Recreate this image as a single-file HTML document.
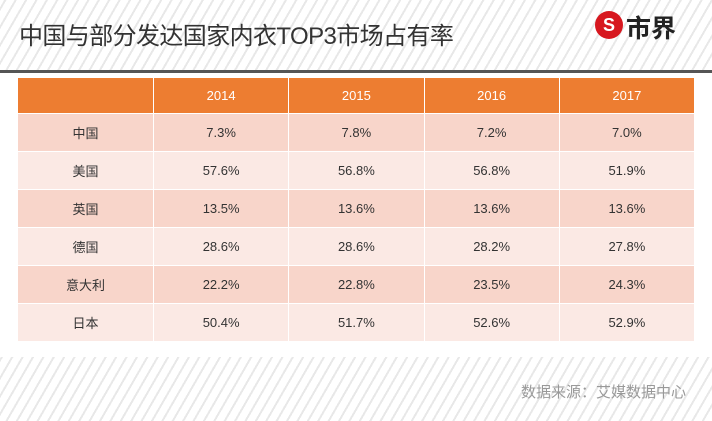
<!DOCTYPE html>
<html><head><meta charset="utf-8">
<style>
body{margin:0;width:712px;height:421px;overflow:hidden;background:#fff;font-family:"Liberation Sans","Noto Sans CJK SC",sans-serif;position:relative}
.stripe{position:absolute;left:0;width:712px;background:repeating-linear-gradient(-60deg,#fff 0,#fff 7px,#e8e8e8 7px,#e8e8e8 9px)}
#top{top:0;height:70px}
#bar{position:absolute;top:70px;left:0;width:712px;height:3px;background:#555}
#bottom{top:357px;height:64px}
#title{position:absolute;left:19px;top:16px;font-size:24px;color:#333;letter-spacing:-0.6px}
#logo{position:absolute;left:595px;top:11px;width:28px;height:28px;border-radius:50%;background:#d7171f}
#logo:after{content:"S";position:absolute;left:0;top:0;width:28px;text-align:center;line-height:28px;color:#fff;font-weight:bold;font-size:18px}
#logotext{position:absolute;left:626px;top:9px;font-size:25px;font-weight:bold;color:#222}
#src{position:absolute;right:26px;top:381px;font-size:15px;color:#999}
table{position:absolute;left:17px;top:77px;border-collapse:collapse;width:678px}
td,th{border:1px solid #fff;text-align:center;font-size:13px;color:#333;font-weight:normal;padding:0}
th{background:#ed7d31;color:#fff;height:35px}
td{height:37px}
tr.o td{background:#f8d5ca}
tr.e td{background:#fbe9e4}
</style></head><body>
<div class="stripe" id="top"></div>
<div id="bar"></div>
<div id="title">中国与部分发达国家内衣TOP3市场占有率</div>
<div id="logo"></div>
<div id="logotext">市界</div>
<table id="tbl"></table>
<div class="stripe" id="bottom"></div>
<div id="src">数据来源：艾媒数据中心</div>
<script>
const years=["2014","2015","2016","2017"];
const countries=["中国","美国","英国","德国","意大利","日本"];
const china=[7.3,7.8,7.2,7.0];
const usa=[57.6,56.8,56.8,51.9];
const uk=[13.5,13.6,13.6,13.6];
const germany=[28.6,28.6,28.2,27.8];
const italy=[22.2,22.8,23.5,24.3];
const japan=[50.4,51.7,52.6,52.9];
const series=[china,usa,uk,germany,italy,japan];
const t=document.getElementById('tbl');
const hr=document.createElement('tr');


hr.appendChild(Object.assign(document.createElement('th'),{style:'width:135px'}));
years.forEach(y=>{const th=document.createElement('th');th.textContent=y;


hr.appendChild(th);});
t.appendChild(hr);
countries.forEach((c,i)=>{const tr=document.createElement('tr');tr.className=i%2?'e':'o';


const td=document.createElement('td');td.textContent=c;


tr.appendChild(td);
series[i].forEach(v=>{const d=document.createElement('td');d.textContent=v.toFixed(1)+'%';


tr.appendChild(d);});
t.appendChild(tr);});
</script>
</body></html>
